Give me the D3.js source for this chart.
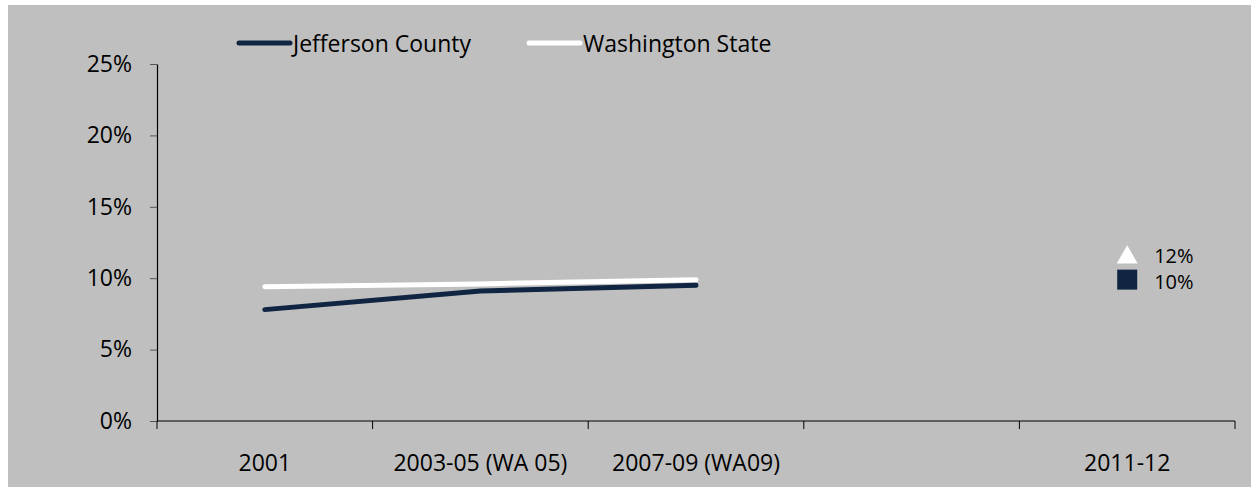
<!DOCTYPE html>
<html>
<head>
<meta charset="utf-8">
<script src="https://cdn.jsdelivr.net/npm/d3@7"></script>
<style>
  html, body { margin: 0; padding: 0; background: #ffffff; }
  svg text { font-family: "Open Sans", "Noto Sans", sans-serif; fill: #000; }
</style>
</head>
<body>
<svg id="chart" width="1251" height="487"></svg>
<script>
// categories on the x axis (one slot is left empty, as in the original)
const categories = ["2001", "2003-05 (WA 05)", "2007-09 (WA09)", "", "2011-12"];
const yTicks = [0, 0.05, 0.10, 0.15, 0.20, 0.25];

// line series
const jeffersonLine = [0.078, 0.091, 0.095];
const washingtonLine = [0.094, 0.096, 0.099];

// single 2011-12 markers
const washingtonMarker = { cat: "2011-12", value: 0.116, label: "12%" };
const jeffersonMarker = { cat: "2011-12", value: 0.099, label: "10%" };

const navy = "#0f2542";
const white = "#ffffff";
const fontSize = "23px";

const svg = d3.select("#chart");

// grey chart area
svg.append("rect")
    .attr("x", 8).attr("y", 5)
    .attr("width", 1243).attr("height", 482)
    .attr("fill", "#bfbfbf");

const x = d3.scaleBand()
    .domain(categories.map((c, i) => i))
    .range([157, 1235])
    .paddingInner(0).paddingOuter(0);

const y = d3.scaleLinear()
    .domain([0, 0.25])
    .range([421, 64]);

// y axis
const yAxis = svg.append("g")
    .attr("transform", "translate(157,0)")
    .call(d3.axisLeft(y).tickValues(yTicks).tickFormat(d3.format(".0%"))
        .tickSize(7).tickSizeOuter(0).tickPadding(18));
yAxis.select(".domain").attr("stroke", "#000").attr("stroke-width", 1.2);
yAxis.selectAll(".tick line").attr("stroke", "#555");
yAxis.selectAll("text").style("font-size", fontSize).attr("fill", "#000");

// x axis: ticks at band boundaries
const xAxisG = svg.append("g");
xAxisG.append("line")
    .attr("x1", 157).attr("x2", 1235)
    .attr("y1", 421).attr("y2", 421)
    .attr("stroke", "#000").attr("stroke-width", 1.2);
const boundaries = categories.map((c, i) => x(i)).concat([x(categories.length - 1) + x.bandwidth()]);
xAxisG.selectAll("line.tick")
    .data(boundaries)
    .join("line")
    .attr("class", "tick")
    .attr("x1", d => d).attr("x2", d => d)
    .attr("y1", 421).attr("y2", 429)
    .attr("stroke", "#000");
xAxisG.selectAll("text")
    .data(categories)
    .join("text")
    .attr("x", (d, i) => x(i) + x.bandwidth() / 2)
    .attr("y", 462)
    .attr("text-anchor", "middle")
    .attr("dominant-baseline", "central")
    .style("font-size", fontSize)
    .text(d => d);

const cx = i => x(i) + x.bandwidth() / 2;
const line = d3.line()
    .x((d, i) => cx(i))
    .y(d => y(d));

svg.append("path")
    .datum(washingtonLine)
    .attr("d", line)
    .attr("fill", "none")
    .attr("stroke", white)
    .attr("stroke-width", 5)
    .attr("stroke-linecap", "round");

svg.append("path")
    .datum(jeffersonLine)
    .attr("d", line)
    .attr("fill", "none")
    .attr("stroke", navy)
    .attr("stroke-width", 5)
    .attr("stroke-linecap", "round");

// 2011-12 markers
const mi = categories.indexOf("2011-12");
svg.append("path")
    .attr("d", d3.symbol(d3.symbolTriangle, 190)())
    .attr("transform", `translate(${cx(mi)},${y(washingtonMarker.value) + 2})`)
    .attr("fill", white);
svg.append("rect")
    .attr("x", cx(mi) - 10).attr("y", y(jeffersonMarker.value) - 10)
    .attr("width", 20).attr("height", 20)
    .attr("fill", navy);

// marker labels, a little smaller so the two do not collide
svg.selectAll("text.mlabel")
    .data([washingtonMarker, jeffersonMarker])
    .join("text")
    .attr("class", "mlabel")
    .attr("x", cx(mi) + 27)
    .attr("y", (d, i) => y(d.value) + (i === 0 ? 0 : 2))
    .attr("dominant-baseline", "central")
    .style("font-size", "20px")
    .text(d => d.label);

// legend
const legend = [
    { name: "Jefferson County", color: navy, x: 239 },
    { name: "Washington State", color: white, x: 529 }
];
const lg = svg.selectAll("g.legend")
    .data(legend)
    .join("g")
    .attr("class", "legend")
    .attr("transform", d => `translate(${d.x},43)`);
lg.append("line")
    .attr("x1", 0).attr("x2", 51)
    .attr("stroke", d => d.color)
    .attr("stroke-width", 5)
    .attr("stroke-linecap", "round");
lg.append("text")
    .attr("x", 54)
    .attr("dominant-baseline", "central")
    .style("font-size", fontSize)
    .text(d => d.name);
</script>
</body>
</html>
